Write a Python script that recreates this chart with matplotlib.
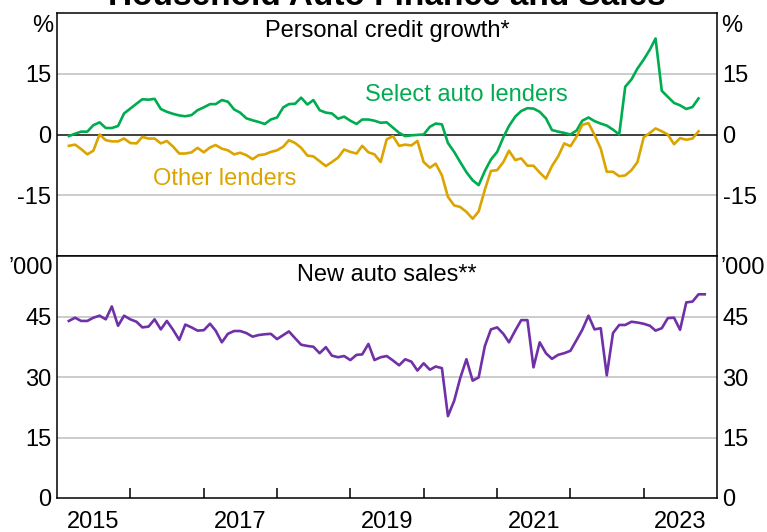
import matplotlib
matplotlib.use("Agg")
import matplotlib.pyplot as plt
import pandas as pd

plt.rcParams['font.family'] = ['Liberation Sans', 'DejaVu Sans']

# ---- data (monthly) ----
credit_start = '2015-03-01'
select_auto = [-0.4, 0.2, 0.7, 0.7, 2.3, 3.0, 1.6, 1.6, 2.1, 5.2, 6.4, 7.6, 8.7, 8.6, 8.8, 6.3,
               5.6, 5.1, 4.7, 4.5, 4.8, 6.0, 6.7, 7.5, 7.5, 8.5, 8.1, 6.2, 5.4, 4.0, 3.5, 3.1,
               2.6, 3.7, 4.2, 6.7, 7.5, 7.6, 9.1, 7.4, 8.5, 6.0, 5.4, 5.2, 3.9, 4.4, 3.4, 2.6,
               3.7, 3.7, 3.4, 2.9, 3.0, 1.7, 0.4, -0.4, -0.2, -0.1, 0.0, 1.9, 2.7, 2.5, -2.1, -4.3,
               -6.8, -9.3, -11.3, -12.5, -9.0, -6.2, -4.3, -0.7, 2.1, 4.4, 5.8, 6.5, 6.4, 5.6, 4.0, 1.1,
               0.7, 0.4, 0.0, 1.0, 3.4, 4.2, 3.3, 2.7, 2.2, 1.2, 0.0, 11.8, 13.6, 16.3, 18.5, 21.0,
               23.7, 10.8, 9.3, 7.8, 7.2, 6.3, 6.8, 8.9]
other_lenders = [-2.8, -2.5, -3.6, -4.9, -4.0, 0.0, -1.4, -1.7, -1.7, -1.0, -2.1, -2.2, -0.6, -1.0, -1.0, -2.2,
                 -1.6, -3.0, -4.7, -4.7, -4.4, -3.3, -4.4, -3.2, -2.6, -3.5, -3.9, -4.9, -4.5, -5.1, -6.1, -5.1,
                 -4.9, -4.3, -3.9, -3.0, -1.4, -2.1, -3.3, -5.2, -5.4, -6.6, -7.8, -6.8, -5.7, -3.7, -4.3, -4.7,
                 -2.8, -4.4, -4.9, -6.8, -1.2, -0.4, -2.8, -2.5, -2.7, -1.6, -6.8, -8.2, -7.2, -10.1, -15.4, -17.5,
                 -17.9, -19.1, -20.8, -19.0, -13.6, -9.0, -8.8, -6.8, -4.0, -6.3, -5.9, -7.7, -7.7, -9.4, -10.9, -7.8,
                 -5.4, -2.2, -2.9, -0.5, 2.4, 2.8, -0.1, -3.5, -9.2, -9.2, -10.3, -10.1, -8.8, -6.8, -0.7, 0.4,
                 1.5, 0.8, 0.0, -2.4, -0.9, -1.3, -1.0, 0.8]
sales_start = '2015-03-01'
new_auto_sales = [43.9, 44.7, 43.9, 43.9, 44.7, 45.2, 44.3, 47.5, 42.7, 45.2, 44.3, 43.7, 42.3, 42.5, 44.3, 41.8,
                  43.9, 41.7, 39.2, 43.0, 42.3, 41.5, 41.6, 43.2, 41.5, 38.6, 40.7, 41.4, 41.4, 40.9, 40.0, 40.4,
                  40.6, 40.7, 39.4, 40.4, 41.3, 39.6, 38.0, 37.7, 37.5, 35.9, 37.4, 35.3, 34.9, 35.2, 34.2, 35.5,
                  35.6, 38.2, 34.2, 34.9, 35.2, 34.1, 32.9, 34.4, 33.8, 31.6, 33.4, 31.8, 32.6, 32.2, 20.3, 24.1,
                  29.7, 34.4, 29.1, 29.9, 37.7, 41.8, 42.3, 40.7, 38.6, 41.5, 44.1, 44.1, 32.4, 38.6, 35.9, 34.5,
                  35.5, 35.9, 36.5, 39.2, 41.7, 45.2, 41.8, 42.1, 30.4, 40.9, 42.9, 42.9, 43.7, 43.5, 43.2, 42.7,
                  41.5, 42.1, 44.6, 44.7, 41.7, 48.5, 48.7, 50.5, 50.5]
year_labels = ['2015', '2017', '2019', '2021', '2023']
top_ticks = [-15, 0, 15]
bottom_ticks = [0, 15, 30, 45]

credit_dates = pd.date_range(credit_start, periods=len(select_auto), freq='MS')
sales_dates = pd.date_range(sales_start, periods=len(new_auto_sales), freq='MS')

GREEN = '#00AC50'
GOLD = '#DCA400'
PURPLE = '#7030A8'
GRID = '#BEBEBE'
FS = 17

fig = plt.figure(figsize=(7.67, 5.32), dpi=100)
W, H = 767, 532
L, R = 57, 717
ax1 = fig.add_axes([L / W, 1 - 256 / H, (R - L) / W, (256 - 13) / H])
ax2 = fig.add_axes([L / W, 1 - 498 / H, (R - L) / W, (498 - 256) / H])

xmin, xmax = pd.Timestamp('2015-01-01'), pd.Timestamp('2024-01-01')

for ax in (ax1, ax2):
    ax.set_xlim(xmin, xmax)
    for s in ax.spines.values():
        s.set_linewidth(1.1)
        s.set_color('black')
    ax.tick_params(axis='y', which='both', length=0, labelsize=FS, pad=4,
                   left=True, right=True, labelleft=True, labelright=True)

# top panel
ax1.set_ylim(-30, 30)
ax1.set_yticks(top_ticks)
ax1.set_yticklabels([str(t) for t in top_ticks])
for v in (15, -15):
    ax1.axhline(v, color=GRID, lw=1.1, zorder=1)
ax1.axhline(0, color='#333333', lw=1.3, zorder=2)
ax1.plot(credit_dates, select_auto, color=GREEN, lw=1.9, zorder=3)
ax1.plot(credit_dates, other_lenders, color=GOLD, lw=1.9, zorder=3)
ax1.set_xticks([])
ax1.text(0.5, 0.925, 'Personal credit growth*', transform=ax1.transAxes,
         ha='center', va='center', fontsize=FS)
ax1.text(pd.Timestamp('2020-08-01'), 9.7, 'Select auto lenders', color=GREEN,
         ha='center', va='center', fontsize=FS)
ax1.text(pd.Timestamp('2017-04-15'), -11.0, 'Other lenders', color=GOLD,
         ha='center', va='center', fontsize=FS)

# bottom panel
ax2.set_ylim(0, 60)
ax2.set_yticks(bottom_ticks)
ax2.set_yticklabels([str(t) for t in bottom_ticks])
for v in (15, 30, 45):
    ax2.axhline(v, color=GRID, lw=1.1, zorder=1)
ax2.plot(sales_dates, new_auto_sales, color=PURPLE, lw=1.9, zorder=3)
ax2.text(0.5, 0.92, 'New auto sales**', transform=ax2.transAxes,
         ha='center', va='center', fontsize=FS)

years = pd.date_range('2016-01-01', '2023-01-01', freq='YS')
ax2.set_xticks(years)
ax2.set_xticklabels([''] * len(years))
ax2.tick_params(axis='x', which='major', direction='in', length=7.5, width=1.1)
mids = [pd.Timestamp(f'{y}-07-02') for y in year_labels]
ax2.set_xticks(mids, minor=True)
ax2.set_xticklabels(year_labels, minor=True)
ax2.tick_params(axis='x', which='minor', length=0, labelsize=FS, pad=9)

# unit labels
fig.text(53 / W, 1 - 26 / H, '%', ha='right', va='center', fontsize=FS)
fig.text(721 / W, 1 - 26 / H, '%', ha='left', va='center', fontsize=FS)
fig.text(53 / W, 1 - 268 / H, '\u2019000', ha='right', va='center', fontsize=FS)
fig.text(721 / W, 1 - 268 / H, '\u2019000', ha='left', va='center', fontsize=FS)

# title (partly cut off at top like the reference)
fig.text(387 / W, 1 - 5 / H, 'Household Auto Finance and Sales', ha='center',
         va='baseline', fontsize=24, fontweight='bold')

fig.savefig('out.png', dpi=100)
